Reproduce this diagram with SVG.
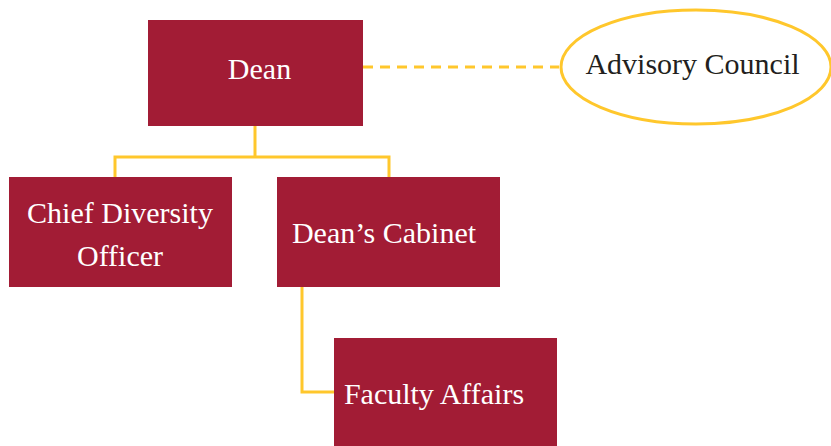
<svg xmlns="http://www.w3.org/2000/svg" width="831" height="446" viewBox="0 0 831 446">
<style>
.box{fill:#A21C35}
.lbl{font-family:"Liberation Serif","Times New Roman",serif;font-size:30px;fill:#ffffff;text-anchor:middle}
.con{fill:none;stroke:#FFC72C;stroke-width:3}
</style>
<rect width="831" height="446" fill="#ffffff"/>
<g id="connectors">
<path class="con" d="M255,126 V157 M115,177 V157 H389 V177"/>
<path class="con" d="M302,287 V392 H334"/>
<line class="con" x1="363" y1="67" x2="559" y2="67" stroke-dasharray="10,7"/>
</g>
<g id="dean">
<rect class="box" x="148" y="20" width="215" height="106"/>
<text class="lbl" x="259.5" y="79">Dean</text>
</g>
<g id="advisory">
<ellipse cx="696" cy="67" rx="135" ry="57" fill="#ffffff" stroke="#FFC72C" stroke-width="3"/>
<text class="lbl" x="692.5" y="74" style="fill:#231f20">Advisory Council</text>
</g>
<g id="cdo">
<rect class="box" x="9" y="177" width="223" height="110"/>
<text class="lbl" x="120" y="223">Chief Diversity</text>
<text class="lbl" x="120" y="266">Officer</text>
</g>
<g id="cabinet">
<rect class="box" x="277" y="177" width="223" height="110"/>
<text class="lbl" x="384" y="243">Dean’s Cabinet</text>
</g>
<g id="faculty">
<rect class="box" x="334" y="338" width="223" height="108"/>
<text class="lbl" x="434" y="404">Faculty Affairs</text>
</g>
</svg>
